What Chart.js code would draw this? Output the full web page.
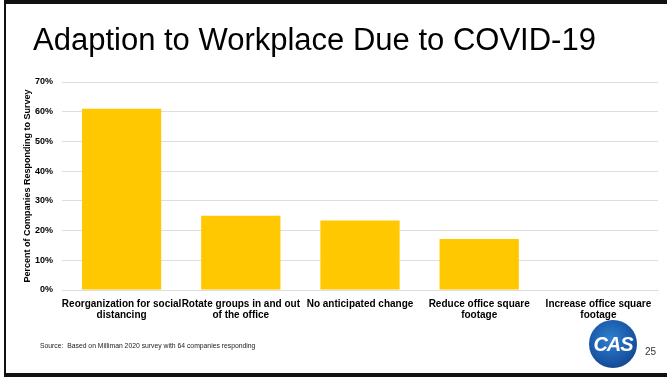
<!DOCTYPE html>
<html lang="en">
<head>
    <meta charset="UTF-8">
    <title>Adaption to Workplace Due to COVID-19</title>
    <style>
        body { margin: 0; width: 667px; height: 378px; background: #fff; position: relative; overflow: hidden;
               font-family: "Liberation Sans", Arial, sans-serif; }
        #wrap { position: absolute; left: 0; top: 0; width: 667px; height: 378px; }
        .bar { position: absolute; background: #111; }
        #title { position: absolute; left: 33px; top: 22px; font-size: 31px; color: #000; white-space: nowrap; }
        #source { position: absolute; left: 40px; top: 342px; font-size: 6.8px; color: #222; white-space: nowrap; }
        #page { position: absolute; left: 645px; top: 346px; font-size: 10px; color: #333; }
        #logo { position: absolute; left: 589px; top: 320px; width: 48px; height: 48px; border-radius: 50%;
                background: radial-gradient(circle at 45% 40%, #2f7fd0 0%, #1a59a8 55%, #0c3470 100%);
                color: #fff; font-weight: bold; font-size: 20px; line-height: 48px; text-align: center;
                letter-spacing: -1px; font-style: italic; }
    </style>
    <script src="https://cdn.jsdelivr.net/npm/chart.js"></script>
</head>
<body>
    <div id="wrap"><canvas id="myChart" width="667" height="378"></canvas></div>
    <div class="bar" style="left:4px; top:0; width:663px; height:4px;"></div>
    <div class="bar" style="left:4px; top:0; width:2px; height:377px;"></div>
    <div class="bar" style="left:4px; top:373px; width:663px; height:4px;"></div>
    <div id="title">Adaption to Workplace Due to COVID-19</div>
    <div id="source">Source:&nbsp; Based on Milliman 2020 survey with 64 companies responding</div>
    <div id="logo">CAS</div>
    <div id="page">25</div>
    <script>
        // chart data
        var categories = [
            ['Reorganization for social', 'distancing'],
            ['Rotate groups in and out', 'of the office'],
            'No anticipated change',
            ['Reduce office square', 'footage'],
            ['Increase office square', 'footage']
        ];
        var percentResponding = [61, 25, 23.4, 17.2, 0];
        var yTicks = [0, 10, 20, 30, 40, 50, 60, 70];
        var yTitle = 'Percent of Companies Responding to Survey';

        var ctx = document.getElementById('myChart').getContext('2d');
        var myChart = new Chart(ctx, {
            type: 'bar',
            data: {
                labels: categories,
                datasets: [{
                    label: 'Percent',
                    data: percentResponding,
                    backgroundColor: '#ffc800',
                    borderWidth: 0,
                    barPercentage: 0.665,
                    categoryPercentage: 1
                }]
            },
            options: {
                responsive: false,
                animation: false,
                layout: { padding: { left: 14, top: 82, right: 9, bottom: 0 } },
                scales: {
                    y: {
                        min: 0,
                        max: 70,
                        afterBuildTicks: function(scale) {
                            scale.ticks = yTicks.map(function(v) { return { value: v }; });
                        },
                        afterFit: function(scale) { scale.width = 48; },
                        ticks: {
                            color: '#000',
                            padding: 9,
                            font: { family: 'Liberation Sans', size: 9, weight: 'bold' },
                            callback: function(v) { return v + '%'; }
                        },
                        grid: { color: '#dedede', lineWidth: 1, drawTicks: false },
                        border: { display: false },
                        title: {
                            display: true,
                            text: yTitle,
                            color: '#000',
                            padding: { top: 8, bottom: 0 },
                            font: { family: 'Liberation Sans', size: 9, weight: 'bold' }
                        }
                    },
                    x: {
                        afterFit: function(scale) { scale.height = 378 - 290; },
                        ticks: {
                            color: '#000',
                            padding: 8,
                            maxRotation: 0,
                            autoSkip: false,
                            font: { family: 'Liberation Sans', size: 10, weight: 'bold', lineHeight: 1.15 }
                        },
                        grid: { display: false, drawTicks: false },
                        border: { color: '#dedede' }
                    }
                },
                plugins: {
                    legend: { display: false },
                    tooltip: { enabled: false }
                }
            }
        });
    </script>
</body>
</html>
